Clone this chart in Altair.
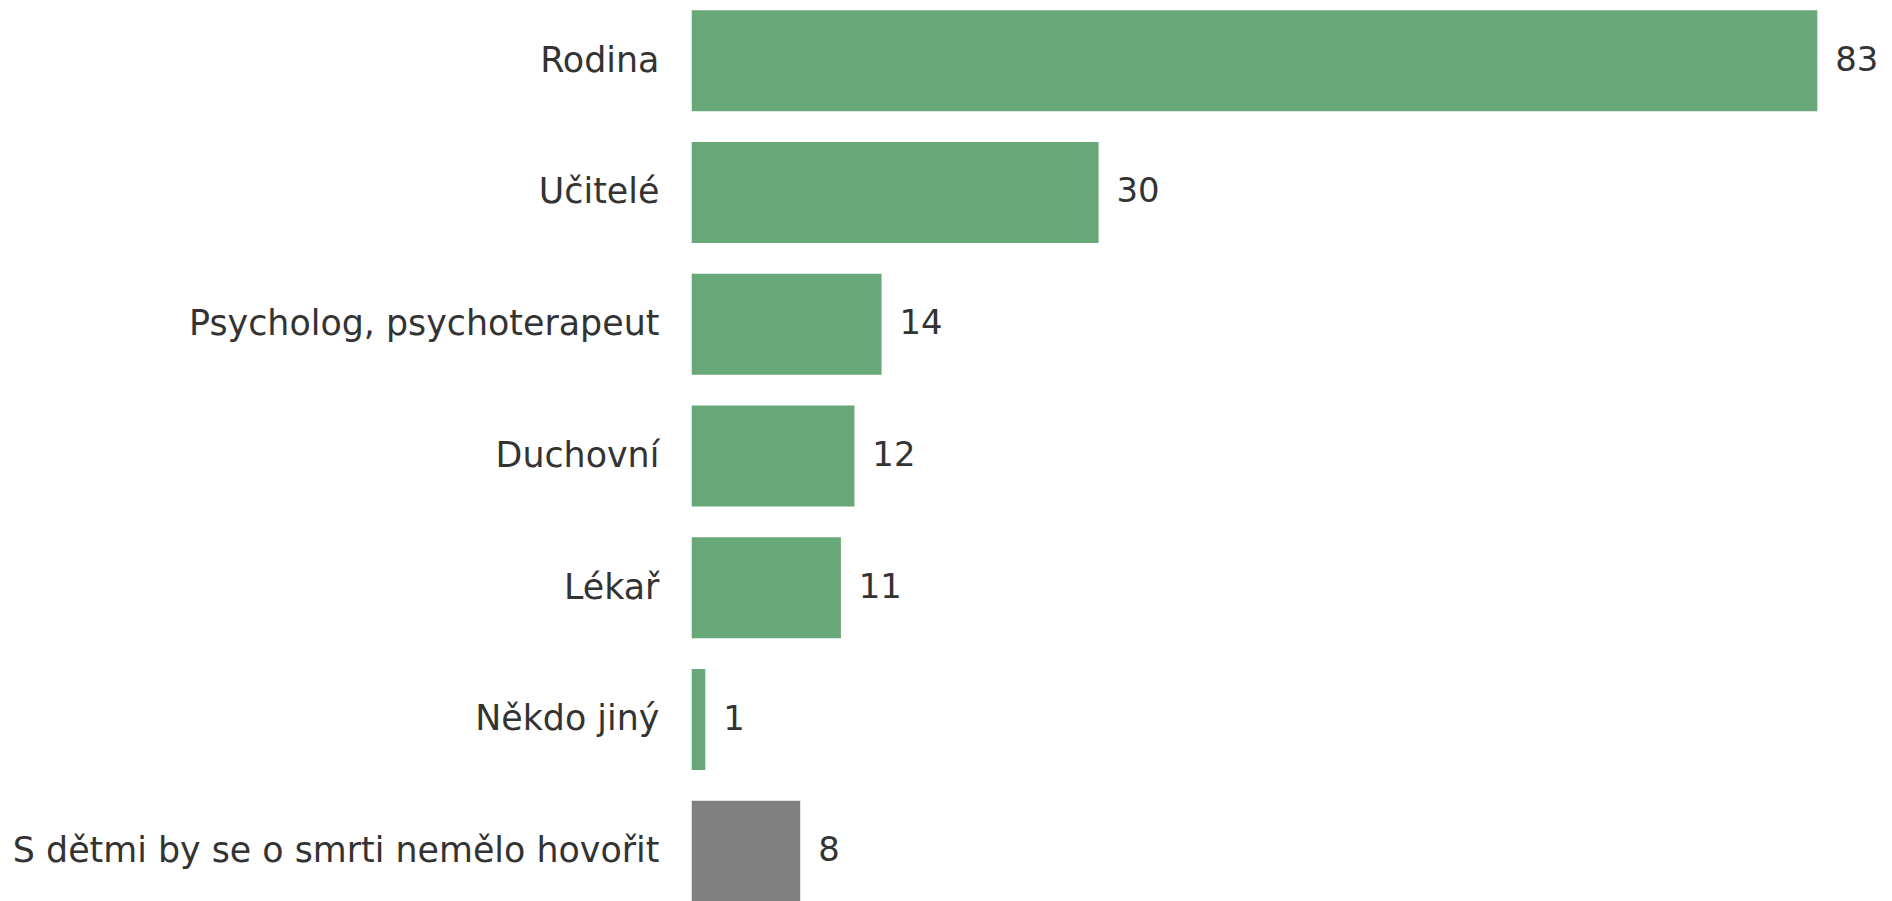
import altair as alt
import pandas as pd

categories = [
    "Rodina",
    "Učitelé",
    "Psycholog, psychoterapeut",
    "Duchovní",
    "Lékař",
    "Někdo jiný",
    "S dětmi by se o smrti nemělo hovořit",
]
values = [83, 30, 14, 12, 11, 1, 8]
groups = ["a", "a", "a", "a", "a", "a", "b"]

df = pd.DataFrame({"cat": categories, "val": values, "grp": groups})

FONT = "DejaVu Sans"
TEXT_COLOR = "#333333"

y_enc = alt.Y(
    "cat:N",
    sort=categories,
    title=None,
    scale=alt.Scale(paddingInner=0.233, paddingOuter=0),
    axis=alt.Axis(
        domain=False,
        ticks=False,
        labelPadding=33,
        labelFont=FONT,
        labelFontSize=35,
        labelColor=TEXT_COLOR,
        labelLimit=1000,
    ),
)

bars = alt.Chart(df).mark_bar().encode(
    y=y_enc,
    x=alt.X("val:Q", scale=alt.Scale(domain=[0, 83], nice=False), axis=None),
    color=alt.Color(
        "grp:N",
        scale=alt.Scale(domain=["a", "b"], range=["#68a778", "#808080"]),
        legend=None,
    ),
)

labels = alt.Chart(df).mark_text(
    align="left", baseline="middle", dx=18, font=FONT, fontSize=34, color=TEXT_COLOR
).encode(
    y=alt.Y("cat:N", sort=categories),
    x=alt.X("val:Q"),
    text=alt.Text("val:Q"),
)

chart = (
    alt.layer(bars, labels)
    .properties(width=1131, height=896, padding={"top": 0, "left": 4, "right": 5, "bottom": 0})
    .configure_view(stroke=None)
)

chart.save("out.html", embed_options={"renderer": "svg", "actions": False})
